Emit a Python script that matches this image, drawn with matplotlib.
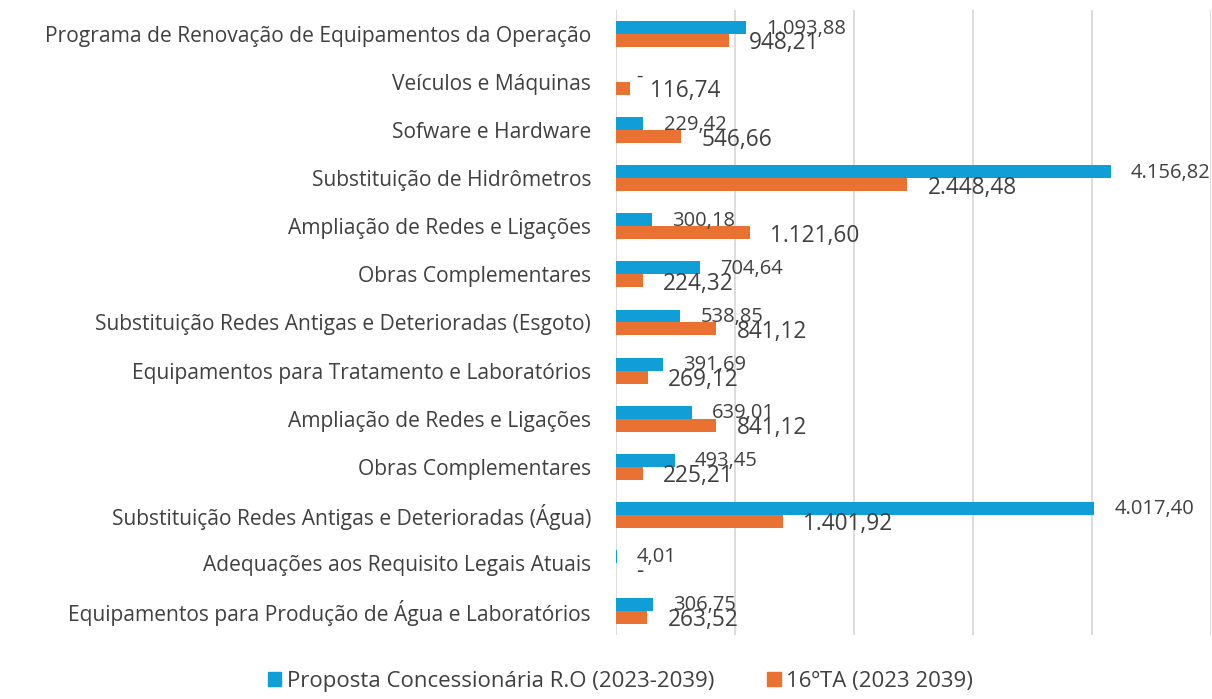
import numpy as np
import matplotlib.pyplot as plt
from matplotlib.patches import Patch

categories = [
    'Programa de Renovação de Equipamentos da Operação',
    'Veículos e Máquinas',
    'Sofware e Hardware',
    'Substituição de Hidrômetros',
    'Ampliação de Redes e Ligações',
    'Obras Complementares',
    'Substituição Redes Antigas e Deterioradas (Esgoto)',
    'Equipamentos para Tratamento e Laboratórios',
    'Ampliação de Redes e Ligações',
    'Obras Complementares',
    'Substituição Redes Antigas e Deterioradas (Água)',
    'Adequações aos Requisito Legais Atuais',
    'Equipamentos para Produção de Água e Laboratórios',
]
proposta = [1093.88, 0, 229.42, 4156.82, 300.18, 704.64, 538.85, 391.69,
            639.01, 493.45, 4017.40, 4.01, 306.75]
ta16 = [948.21, 116.74, 546.66, 2448.48, 1121.60, 224.32, 841.12, 269.12,
        841.12, 225.21, 1401.92, 0, 263.52]
series_names = ['Proposta Concessionária R.O (2023-2039)', '16ºTA (2023 2039)']

BLUE = '#0F9ED5'
ORANGE = '#E97132'
TXT = '#404040'

plt.rcParams['font.family'] = ['Open Sans', 'DejaVu Sans']


def fmt_br(v):
    # brazilian number format, zero shown as a dash
    if v == 0:
        return '-'
    s = f'{v:,.2f}'
    return s.replace(',', 'X').replace('.', ',').replace('X', '.')


fig = plt.figure(figsize=(12.12, 6.99), dpi=100)
ax = fig.add_axes([0.5083, 0.0916, 0.4909, 0.8941])

y = np.arange(len(categories))
h = 0.27
ax.barh(y - h / 2, proposta, height=h, color=BLUE, linewidth=0, zorder=3)
ax.barh(y + h / 2, ta16, height=h, color=ORANGE, linewidth=0, zorder=3)

off = 170  # data units, ~20 px
for yi, v in zip(y, proposta):
    ax.text(v + off, yi - h / 2 + 0.02, fmt_br(v), ha='left', va='center',
            fontsize=14.5, color=TXT, zorder=4)
for yi, v in zip(y, ta16):
    ax.text(v + off, yi + h / 2 + 0.06, fmt_br(v), ha='left', va='center',
            fontsize=16.3, color=TXT, zorder=4)

ax.set_xlim(0, 5000)
ax.set_ylim(len(categories) - 0.5, -0.5)
ax.set_xticks(np.arange(0, 5001, 1000))
ax.set_xticklabels([])
ax.tick_params(axis='x', length=0)
ax.tick_params(axis='y', length=0, pad=18, labelsize=15.1, labelcolor=TXT)
ax.set_yticks(y)
ax.set_yticklabels(categories)
ax.grid(axis='x', color='#D9D9D9', linewidth=1.3, zorder=0)
for sp in ax.spines.values():
    sp.set_visible(False)

handles = [Patch(color=BLUE), Patch(color=ORANGE)]
fig.legend(handles, series_names, loc='lower center', bbox_to_anchor=(0.512, -0.018),
           ncol=2, frameon=False, fontsize=16, handlelength=0.6,
           handleheight=0.6, handletextpad=0.25, columnspacing=2.4,
           labelcolor=TXT)

fig.savefig('out.png', dpi=100)
